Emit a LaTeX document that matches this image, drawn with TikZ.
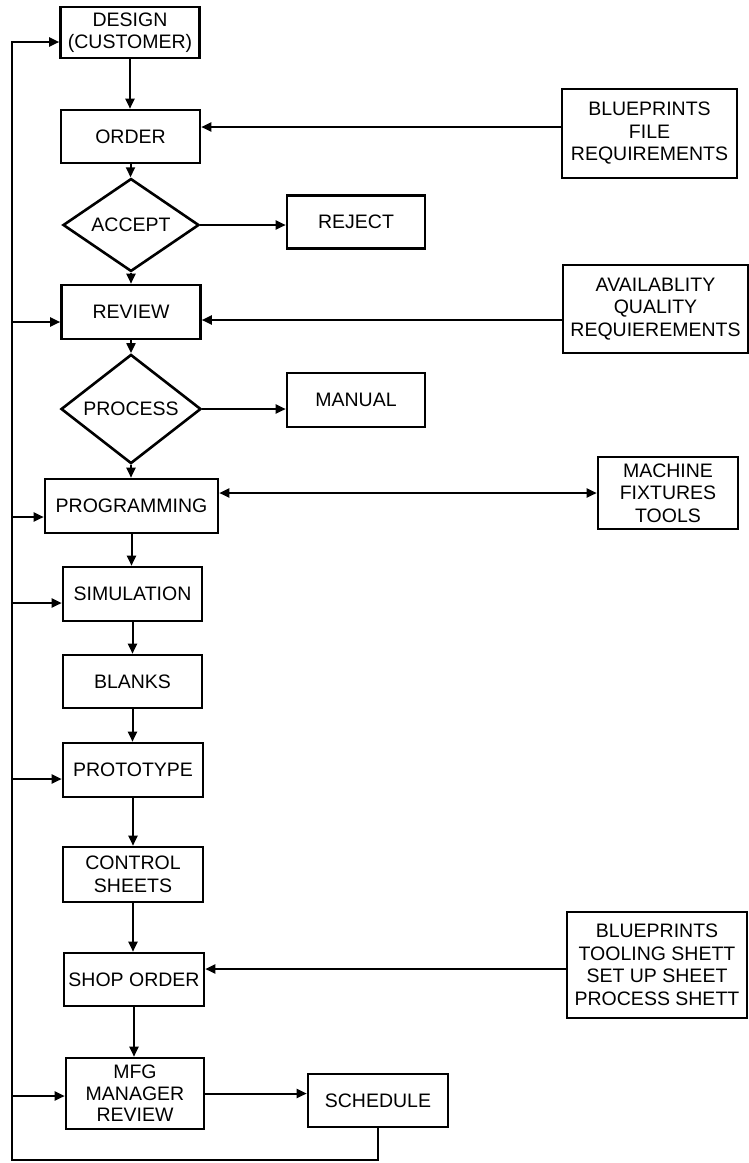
\documentclass[tikz,border=0pt]{standalone}
\usepackage{fontspec}
\setmainfont{Liberation Sans}
\usetikzlibrary{shapes.geometric,arrows.meta}
\begin{document}
\begin{tikzpicture}[x=1pt,y=-1pt,
  procbox/.style={draw,line width=2.6pt,rectangle,inner sep=0pt,align=center,
    font=\fontsize{19.5}{22.5}\selectfont},
  dia/.style={draw,line width=2.6pt,diamond,inner sep=0pt,aspect=1,
    font=\fontsize{19.5}{22.5}\selectfont},
  arr/.style={line width=2pt,-{Triangle[length=10pt,width=9pt]}},
  arrb/.style={line width=2pt,{Triangle[length=10pt,width=9pt]}-{Triangle[length=10pt,width=9pt]}},
  lnk/.style={line width=2pt}]
\useasboundingbox[fill=white] (0,0) rectangle (749,1163);

% main column
\node[procbox,minimum width=139pt,minimum height=51pt] (design) at (130,32.5) {DESIGN\\(CUSTOMER)};
\node[procbox,minimum width=139pt,minimum height=53pt] (order) at (130.5,136.5) {ORDER};
\node[dia,minimum width=136pt,minimum height=86pt] (accept) at (131,225) {ACCEPT};
\node[procbox,minimum width=139pt,minimum height=54pt] (review) at (131,312) {REVIEW};
\node[dia,minimum width=140pt,minimum height=70pt] (process) at (131,409) {PROCESS};
\node[procbox,minimum width=173pt,minimum height=54pt] (prog) at (131.5,506) {PROGRAMMING};
\node[procbox,minimum width=139pt,minimum height=54pt] (sim) at (132.5,594) {SIMULATION};
\node[procbox,minimum width=139pt,minimum height=53pt] (blanks) at (132.5,681.5) {BLANKS};
\node[procbox,minimum width=140pt,minimum height=54pt] (proto) at (133,770) {PROTOTYPE};
\node[procbox,minimum width=140pt,minimum height=55pt] (control) at (133,874.5) {CONTROL\\SHEETS};
\node[procbox,minimum width=140pt,minimum height=53pt] (shop) at (134,979.5) {SHOP ORDER};
\node[procbox,minimum width=138pt,minimum height=71pt,font=\fontsize{19.5}{21.5}\selectfont] (mfg) at (135,1093.5) {MFG\\MANAGER\\REVIEW};

% side boxes
\node[procbox,minimum width=138pt,minimum height=53pt] (reject) at (356,222) {REJECT};
\node[procbox,minimum width=138pt,minimum height=54pt] (manual) at (356,400) {MANUAL};
\node[procbox,minimum width=140pt,minimum height=53pt] (schedule) at (378,1100.5) {SCHEDULE};
\node[procbox,minimum width=175pt,minimum height=89pt] (bp1) at (649.5,133.5) {BLUEPRINTS\\FILE\\REQUIREMENTS};
\node[procbox,minimum width=185pt,minimum height=88pt] (avail) at (655.5,309) {AVAILABLITY\\QUALITY\\REQUIEREMENTS};
\node[procbox,minimum width=140pt,minimum height=72pt,font=\fontsize{19.5}{22.5}\selectfont] (machine) at (668,493) {MACHINE\\FIXTURES\\TOOLS};
\node[procbox,minimum width=180pt,minimum height=106pt] (bp2) at (657,965) {BLUEPRINTS\\TOOLING SHETT\\SET UP SHEET\\PROCESS SHETT};

% main flow
\draw[arr] (design.south) -- (design.south |- order.north);
\draw[arr] (order.south) -- (order.south |- accept.north);
\draw[arr] (accept.south) -- (accept.south |- review.north);
\draw[arr] (review.south) -- (review.south |- process.north);
\draw[arr] (process.south) -- (process.south |- prog.north);
\draw[arr] (prog.south) -- (prog.south |- sim.north);
\draw[arr] (sim.south) -- (sim.south |- blanks.north);
\draw[arr] (blanks.south) -- (blanks.south |- proto.north);
\draw[arr] (proto.south) -- (proto.south |- control.north);
\draw[arr] (control.south) -- (control.south |- shop.north);
\draw[arr] (shop.south) -- (shop.south |- mfg.north);

% side flows
\draw[arr] (accept.east) -- (accept.east -| reject.west);
\draw[arr] (process.east) -- (process.east -| manual.west);
\draw[arr] (mfg.east) -- (mfg.east -| schedule.west);
\draw[arr] ([yshift=6.5pt]bp1.west) -- ([yshift=6.5pt]bp1.west -| order.east);
\draw[arr] ([yshift=-11pt]avail.west) -- ([yshift=-11pt]avail.west -| review.east);
\draw[arrb] (prog.east |- machine.west) -- (machine.west);
\draw[arr] ([yshift=-4pt]bp2.west) -- ([yshift=-4pt]bp2.west -| shop.east);

% feedback bus
\coordinate (busTop) at (12,42);
\coordinate (busBot) at (12,1160);
\draw[arr] (schedule.south) |- (busBot) -- (busTop) -- (busTop -| design.west);
\coordinate (b1) at (12,322);
\coordinate (b2) at (12,517);
\coordinate (b3) at (12,603);
\coordinate (b4) at (12,779);
\coordinate (b5) at (12,1096);
\draw[arr] (b1) -- (b1 -| review.west);
\draw[arr] (b2) -- (b2 -| prog.west);
\draw[arr] (b3) -- (b3 -| sim.west);
\draw[arr] (b4) -- (b4 -| proto.west);
\draw[arr] (b5) -- (b5 -| mfg.west);
\end{tikzpicture}
\end{document}
